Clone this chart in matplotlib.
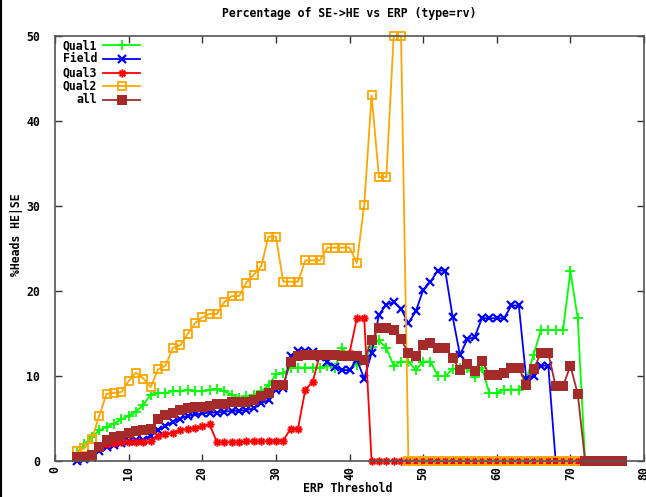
import matplotlib
matplotlib.use("Agg")
import matplotlib.pyplot as plt
from matplotlib.lines import Line2D
from matplotlib.path import Path

# ---------------- data ----------------
x_q1 = list(range(3, 73))
qual1 = [1.0, 2.0, 2.8, 3.6, 4.0, 4.4, 4.9, 5.3, 5.8, 6.6,
         7.8, 8.0, 8.0, 8.2, 8.2, 8.4, 8.2, 8.2, 8.4, 8.5,
         8.2, 7.8, 7.4, 7.6, 7.8, 8.2, 8.9, 10.2, 10.3, 11.0,
         11.0, 11.0, 11.0, 11.0, 11.2, 11.0, 13.3, 12.4, 11.3, 11.9,
         13.4, 14.2, 13.3, 11.2, 11.7, 11.7, 10.7, 11.7, 11.7, 10.0,
         10.0, 10.8, 10.9, 10.9, 9.9, 10.9, 8.0, 8.0, 8.4, 8.4,
         8.4, 9.5, 12.5, 15.4, 15.4, 15.4, 15.4, 22.3, 16.8, 0.0]

x_field = list(range(3, 69))
field = [0.0, 0.2, 0.5, 1.2, 1.7, 1.9, 2.1, 2.3, 2.5, 2.5,
         3.0, 3.6, 4.1, 4.6, 5.0, 5.3, 5.5, 5.6, 5.7, 5.7,
         5.8, 5.9, 5.9, 6.0, 6.2, 6.8, 7.2, 8.4, 8.6, 12.3,
         13.0, 12.9, 12.8, 12.2, 11.7, 11.1, 10.7, 10.7, 11.9, 9.7,
         12.7, 17.2, 18.4, 18.7, 17.9, 16.2, 17.6, 20.1, 21.1, 22.4,
         22.4, 17.0, 12.5, 14.3, 14.6, 16.8, 16.8, 16.8, 16.8, 18.3,
         18.3, 9.7, 10.0, 11.2, 11.2, 0.0]

x_q3 = list(range(3, 72))
qual3 = [0.3, 0.5, 0.6, 1.7, 2.0, 2.1, 2.2, 2.2, 2.2, 2.2,
         2.3, 3.0, 3.2, 3.3, 3.6, 3.8, 3.9, 4.1, 4.3, 2.2,
         2.2, 2.2, 2.2, 2.3, 2.3, 2.3, 2.3, 2.3, 2.4, 3.8,
         3.8, 8.4, 9.3, 12.6, 12.6, 12.6, 12.6, 12.7, 16.8, 16.8] + [0.0] * 29

x_q2 = list(range(3, 72))
qual2 = [1.2, 1.5, 2.6, 5.3, 7.9, 8.0, 8.1, 9.4, 10.4, 9.7,
         8.7, 10.8, 11.2, 13.3, 13.6, 14.9, 16.2, 16.9, 17.3, 17.3,
         18.7, 19.4, 19.4, 21.0, 21.9, 22.9, 26.4, 26.4, 21.1, 21.1,
         21.1, 23.6, 23.6, 23.6, 25.1, 25.1, 25.1, 25.1, 23.3, 30.1,
         43.0, 33.4, 33.4, 50.0, 50.0] + [0.0] * 24

x_all = list(range(3, 78))
all_ = [0.5, 0.5, 0.7, 1.6, 2.5, 2.8, 2.9, 3.3, 3.5, 3.6,
        3.8, 5.0, 5.4, 5.6, 6.0, 6.2, 6.3, 6.4, 6.5, 6.7,
        6.7, 6.9, 6.9, 7.0, 7.2, 7.6, 8.0, 8.9, 8.9, 11.7,
        12.4, 12.5, 12.5, 12.5, 12.5, 12.5, 12.4, 12.3, 12.3, 11.9,
        14.2, 15.7, 15.6, 15.4, 14.3, 12.7, 12.4, 13.6, 13.9, 13.3,
        13.3, 12.1, 10.7, 11.4, 10.6, 11.8, 10.1, 10.1, 10.3, 11.0,
        11.0, 8.9, 10.8, 12.7, 12.7, 8.8, 8.8, 11.2, 7.9] + [0.0] * 6

x_ticks = [0, 10, 20, 30, 40, 50, 60, 70, 80]
y_ticks = [0, 10, 20, 30, 40, 50]
title = "Percentage of SE->HE vs ERP (type=rv)"
xlabel = "ERP Threshold"
ylabel = "%Heads HE|SE"

# ---------------- style ----------------
FONT = dict(family="DejaVu Sans Mono", weight="bold", size=8.3)
W, H = 646, 497
fig = plt.figure(figsize=(W / 100, H / 100), dpi=100)
L, R, T, B = 55, 644, 36, 461
ax = fig.add_axes([L / W, 1 - B / H, (R - L) / W, (B - T) / H])

# gnuplot "*" point: a "+" overlaid with an "x"
star = Path([(-1, 0), (1, 0), (0, -1), (0, 1),
             (-0.7, -0.7), (0.7, 0.7), (-0.7, 0.7), (0.7, -0.7)],
            [Path.MOVETO, Path.LINETO] * 4)

series = [
    ("Qual1", x_q1, qual1, dict(color="#00ff00", marker="+", ms=7, mew=1.3)),
    ("Field", x_field, field, dict(color="#0000ff", marker="x", ms=5.5, mew=1.6)),
    ("Qual3", x_q3, qual3, dict(color="#ff0000", marker=star, ms=6, mew=1.4)),
    ("Qual2", x_q2, qual2, dict(color="#ffa500", marker="s", ms=5.5, mew=1.3,
                                mfc="none")),
    ("all", x_all, all_, dict(color="#a52a2a", marker="s", ms=6.5, mew=0)),
]

for name, xs, ys, st in series:
    ax.plot(xs, ys, lw=1.3, clip_on=False, **st)

ax.set_xlim(0, 80)
ax.set_ylim(0, 50)
ax.set_xticks(x_ticks)
ax.set_yticks(y_ticks)
ax.set_xticklabels([str(v) for v in x_ticks], rotation=90, fontdict=FONT)
ax.set_yticklabels([str(v) for v in y_ticks], fontdict=FONT)
ax.tick_params(direction="in", length=5, width=1, top=True, right=True,
               color="#333333")
ax.tick_params(axis="y", pad=11)
ax.tick_params(axis="x", pad=4)
for sp in ax.spines.values():
    sp.set_color("#555555")
    sp.set_linewidth(1.2)

fig.text((L + R) / 2 / W, 1 - 13 / H, title, ha="center", va="center", **FONT)
fig.text(348 / W, 1 - 489 / H, xlabel, ha="center", va="center", **FONT)
fig.text(17 / W, 1 - 235 / H, ylabel, ha="center", va="center",
         rotation=90, **FONT)

# legend (gnuplot style: right-aligned labels, sample line after)
rows = [45.5, 59, 72.7, 86.2, 99.7]
for (name, xs, ys, st), py in zip(series, rows):
    ya = (B - py) / (B - T)
    tx = (97 - L) / (R - L)
    ax.text(tx, ya, name, transform=ax.transAxes, ha="right", va="center",
            **FONT)
    x0 = (103 - L) / (R - L)
    x1 = (140 - L) / (R - L)
    xm = (x0 + x1) / 2
    ln = Line2D([x0, xm, x1], [ya, ya, ya], transform=ax.transAxes,
                lw=1.3, markevery=[1], **st)
    ax.add_line(ln)

# left border line of the image
fig.add_artist(Line2D([1.0 / W, 1.0 / W], [0, 1], transform=fig.transFigure,
                      color="black", lw=1.5))

fig.savefig("out.png", dpi=100)
